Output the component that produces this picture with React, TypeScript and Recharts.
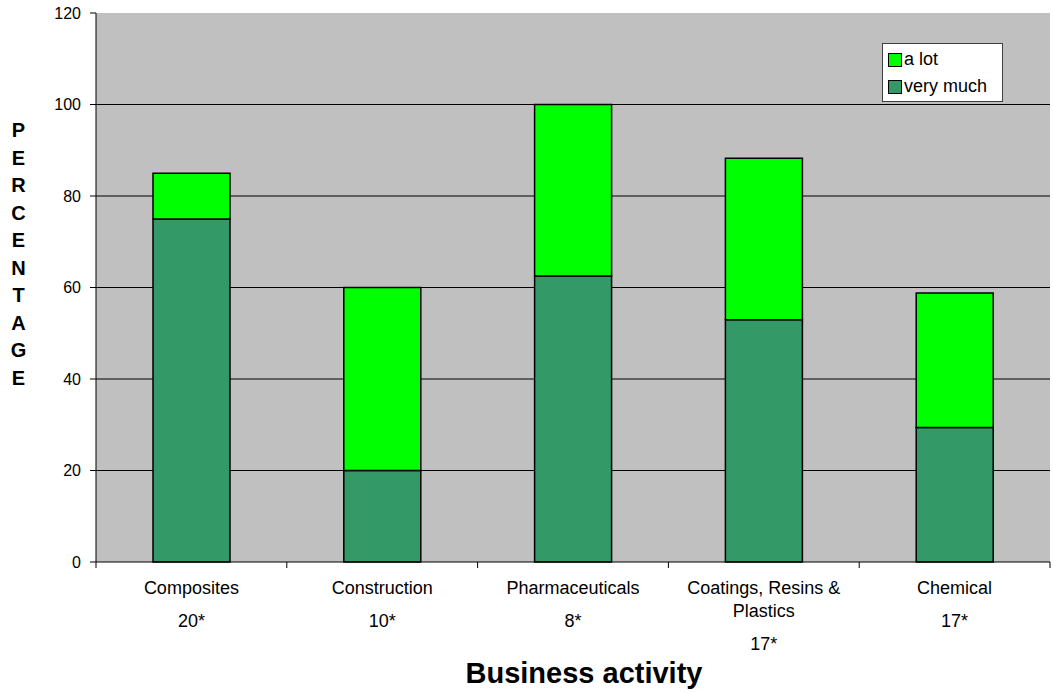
import { Bar, BarChart, CartesianGrid, Label, Legend, XAxis, YAxis } from "recharts";

const categories = ["Composites", "Construction", "Pharmaceuticals", "Coatings, Resins & Plastics", "Chemical"];
const categoryLines = [["Composites"], ["Construction"], ["Pharmaceuticals"], ["Coatings, Resins &", "Plastics"], ["Chemical"]];
const respondents = ["20*", "10*", "8*", "17*", "17*"];
const veryMuch = [75, 20, 62.5, 52.94, 29.41];
const aLot = [10, 40, 37.5, 35.29, 29.41];
const yTicks = [0, 20, 40, 60, 80, 100, 120];
const yAxisTitle = "PERCENTAGE";
const xAxisTitle = "Business activity";

const series = [
  { key: "veryMuch", name: "very much", color: "#339966" },
  { key: "aLot", name: "a lot", color: "#00ff00" },
];

const data = categories.map((name, i) => ({ name, veryMuch: veryMuch[i], aLot: aLot[i] }));

const FONT = '"Liberation Sans", Arial, sans-serif';

// category name (wrapped) plus respondent count underneath, with tick marks on band edges
function CategoryTick(props: any) {
  const { x, y, index, payload, visibleTicksCount } = props;
  const half = payload?.offset ?? 0;
  const lines = categoryLines[index] ?? [String(payload?.value ?? "")];
  const lineGap = 22.5;
  const first = y + 32;
  return (
    <g>
      <line x1={x - half} y1={y} x2={x - half} y2={y + 6} stroke="#000" />
      {index === visibleTicksCount - 1 ? (
        <line x1={x + half} y1={y} x2={x + half} y2={y + 6} stroke="#000" />
      ) : null}
      <text textAnchor="middle" fontSize={18} fill="#000" fontFamily={FONT}>
        {lines.map((line, i) => (
          <tspan key={i} x={x} y={first + i * lineGap}>
            {line}
          </tspan>
        ))}
        <tspan x={x} y={first + (lines.length - 1) * lineGap + 33}>
          {respondents[index]}
        </tspan>
      </text>
    </g>
  );
}

function VerticalTitle({ viewBox }: any) {
  const cx = (viewBox?.x ?? 0) + 18.5;
  const top = (viewBox?.y ?? 0) + 124;
  return (
    <text textAnchor="middle" fontSize={20} fontWeight="bold" fill="#000" fontFamily={FONT}>
      {yAxisTitle.split("").map((ch, i) => (
        <tspan key={i} x={cx} y={top + i * 27.5}>
          {ch}
        </tspan>
      ))}
    </text>
  );
}

function BottomTitle({ viewBox }: any) {
  const cx = (viewBox?.x ?? 0) + (viewBox?.width ?? 0) / 2 + 11;
  const base = (viewBox?.y ?? 0) + 121;
  return (
    <text x={cx} y={base} textAnchor="middle" fontSize={29} fontWeight="bold" fill="#000" fontFamily={FONT}>
      {xAxisTitle}
    </text>
  );
}

function LegendBox() {
  const items = [...series].reverse();
  return (
    <div
      style={{
        width: 121,
        height: 59,
        background: "#fff",
        border: "1px solid #404040",
        fontFamily: FONT,
        fontSize: 18,
        color: "#000",
        paddingTop: 2,
        boxSizing: "border-box",
      }}
    >
      {items.map((s) => (
        <div key={s.key} style={{ display: "flex", alignItems: "center", height: 27, paddingLeft: 5 }}>
          <span
            style={{
              display: "inline-block",
              width: 12,
              height: 12,
              background: s.color,
              border: "1px solid #000",
              marginRight: 2,
            }}
          />
          <span>{s.name}</span>
        </div>
      ))}
    </div>
  );
}

export default function App() {
  return (
    <div style={{ position: "absolute", left: 0, top: 0, fontFamily: FONT }}>
      <BarChart width={1053} height={692} data={data} margin={{ top: 13, right: 3, bottom: 0, left: 0 }}>
        <CartesianGrid
          vertical={false}
          fill="#c0c0c0"
          stroke="#000"
          horizontalValues={yTicks.slice(1, -1)}
        />
        <XAxis
          dataKey="name"
          height={130}
          axisLine={{ stroke: "#000" }}
          tickLine={false}
          tickSize={0}
          tickMargin={0}
          interval={0}
          tick={<CategoryTick />}
        >
          <Label content={<BottomTitle />} />
        </XAxis>
        <XAxis xAxisId="top" dataKey="name" orientation="top" height={0} tick={false} tickLine={false} axisLine={{ stroke: "#808080" }} />
        <YAxis
          width={96}
          domain={[0, 120]}
          ticks={yTicks}
          interval={0}
          tickSize={6}
          tickMargin={9}
          axisLine={{ stroke: "#000" }}
          tickLine={{ stroke: "#000" }}
          tick={{ fontSize: 16, fill: "#000", fontFamily: FONT }}
        >
          <Label content={<VerticalTitle />} />
        </YAxis>
        <YAxis yAxisId="right" orientation="right" width={0} domain={[0, 120]} tick={false} tickLine={false} axisLine={{ stroke: "#808080" }} />
        <Legend
          layout="vertical"
          align="center"
          verticalAlign="middle"
          content={<LegendBox />}
          wrapperStyle={{ left: 882, top: 43, width: "auto", height: "auto" }}
        />
        {series.map((s) => (
          <Bar
            key={s.key}
            dataKey={s.key}
            name={s.name}
            stackId="total"
            fill={s.color}
            stroke="#000"
            strokeWidth={1.5}
            barSize={77}
            isAnimationActive={false}
          />
        ))}
      </BarChart>
    </div>
  );
}
